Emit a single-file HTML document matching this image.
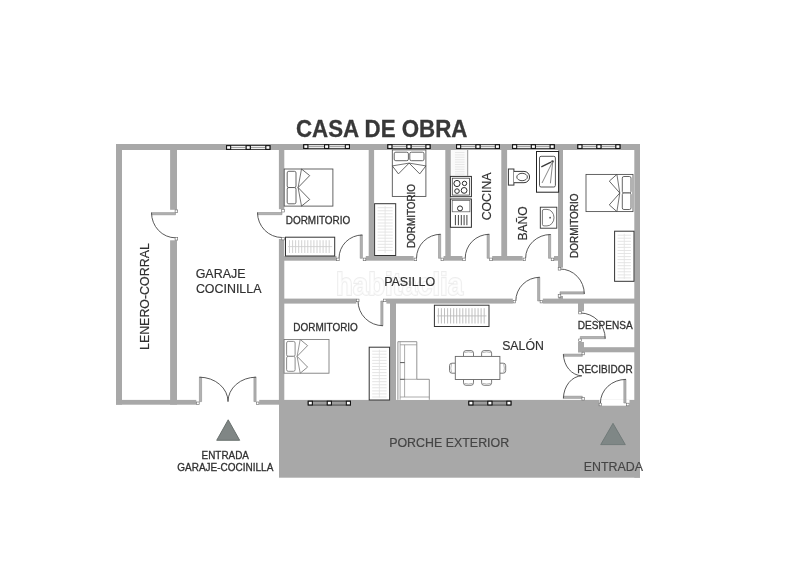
<!DOCTYPE html>
<html lang="es"><head><meta charset="utf-8"><title>CASA DE OBRA</title>
<style>
html,body{margin:0;padding:0;background:#fff;}
body{width:800px;height:573px;overflow:hidden;}
svg{display:block;font-family:"Liberation Sans",sans-serif;will-change:transform;}
</style></head><body>
<svg width="800" height="573" viewBox="0 0 800 573">
<rect width="800" height="573" fill="#fff"/>
<rect x="279" y="399.9" width="361" height="77.8" fill="#a8a8a8" />
<rect x="116" y="144" width="524" height="6" fill="#a8a8a8" />
<rect x="116" y="144" width="6" height="260.7" fill="#a8a8a8" />
<rect x="634.3" y="144" width="5.7" height="333.7" fill="#a8a8a8" />
<rect x="116" y="399.9" width="80.3" height="4.8" fill="#a8a8a8" />
<rect x="259.2" y="399.9" width="24.8" height="4.8" fill="#a8a8a8" />
<rect x="170.1" y="144" width="6.9" height="65.8" fill="#a8a8a8" />
<rect x="170.1" y="240.3" width="6.9" height="164.4" fill="#a8a8a8" />
<rect x="278.9" y="144" width="5.4" height="65.2" fill="#a8a8a8" />
<rect x="278.9" y="239" width="5.4" height="165.7" fill="#a8a8a8" />
<rect x="284" y="256" width="52.5" height="4.7" fill="#a8a8a8" />
<rect x="365.8" y="256" width="47.8" height="4.7" fill="#a8a8a8" />
<rect x="443.6" y="256" width="18.8" height="4.7" fill="#a8a8a8" />
<rect x="492.2" y="256" width="30.4" height="4.7" fill="#a8a8a8" />
<rect x="554" y="256" width="9" height="4.7" fill="#a8a8a8" />
<rect x="368.7" y="150" width="5.4" height="110" fill="#a8a8a8" />
<rect x="445.3" y="150" width="5.5" height="110" fill="#a8a8a8" />
<rect x="501.3" y="150" width="5.8" height="110" fill="#a8a8a8" />
<rect x="558" y="150" width="5" height="117.6" fill="#a8a8a8" />
<rect x="558.4" y="296" width="4.6" height="3" fill="#a8a8a8" />
<rect x="284" y="298.6" width="72.3" height="5" fill="#a8a8a8" />
<rect x="386.4" y="298.6" width="126.4" height="5" fill="#a8a8a8" />
<rect x="542.8" y="298.6" width="92.2" height="5" fill="#a8a8a8" />
<rect x="390" y="300" width="6" height="104" fill="#a8a8a8" />
<rect x="578" y="303" width="6" height="8.2" fill="#a8a8a8" />
<rect x="578" y="342" width="6" height="10.3" fill="#a8a8a8" />
<rect x="578" y="347.2" width="57" height="5.1" fill="#a8a8a8" />
<rect x="599.5" y="400" width="30" height="5.7" fill="#fff" />
<rect x="226" y="145.1" width="44.5" height="4.8" fill="#3a3a3a" />
<rect x="231" y="146" width="14.65" height="3" fill="#f0f0f0" />
<rect x="231" y="147.05" width="14.65" height="0.9" fill="#9a9a9a" />
<rect x="250.85" y="146" width="14.65" height="3" fill="#f0f0f0" />
<rect x="250.85" y="147.05" width="14.65" height="0.9" fill="#9a9a9a" />
<rect x="226" y="145.1" width="5.2" height="4.8" fill="#151515" />
<rect x="227.1" y="146.2" width="3" height="2.6" fill="#fff" />
<rect x="245.65" y="145.1" width="5.2" height="4.8" fill="#151515" />
<rect x="246.75" y="146.2" width="3" height="2.6" fill="#fff" />
<rect x="265.3" y="145.1" width="5.2" height="4.8" fill="#151515" />
<rect x="266.4" y="146.2" width="3" height="2.6" fill="#fff" />
<rect x="303.2" y="144.2" width="46.8" height="4.8" fill="#3a3a3a" />
<rect x="308.2" y="145.1" width="15.8" height="3" fill="#f0f0f0" />
<rect x="308.2" y="146.15" width="15.8" height="0.9" fill="#9a9a9a" />
<rect x="329.2" y="145.1" width="15.8" height="3" fill="#f0f0f0" />
<rect x="329.2" y="146.15" width="15.8" height="0.9" fill="#9a9a9a" />
<rect x="303.2" y="144.2" width="5.2" height="4.8" fill="#151515" />
<rect x="304.3" y="145.3" width="3" height="2.6" fill="#fff" />
<rect x="324" y="144.2" width="5.2" height="4.8" fill="#151515" />
<rect x="325.1" y="145.3" width="3" height="2.6" fill="#fff" />
<rect x="344.8" y="144.2" width="5.2" height="4.8" fill="#151515" />
<rect x="345.9" y="145.3" width="3" height="2.6" fill="#fff" />
<rect x="387.3" y="144.2" width="43.3" height="4.8" fill="#3a3a3a" />
<rect x="392.3" y="145.1" width="14.05" height="3" fill="#f0f0f0" />
<rect x="392.3" y="146.15" width="14.05" height="0.9" fill="#9a9a9a" />
<rect x="411.55" y="145.1" width="14.05" height="3" fill="#f0f0f0" />
<rect x="411.55" y="146.15" width="14.05" height="0.9" fill="#9a9a9a" />
<rect x="387.3" y="144.2" width="5.2" height="4.8" fill="#151515" />
<rect x="388.4" y="145.3" width="3" height="2.6" fill="#fff" />
<rect x="406.35" y="144.2" width="5.2" height="4.8" fill="#151515" />
<rect x="407.45" y="145.3" width="3" height="2.6" fill="#fff" />
<rect x="425.4" y="144.2" width="5.2" height="4.8" fill="#151515" />
<rect x="426.5" y="145.3" width="3" height="2.6" fill="#fff" />
<rect x="456" y="144.2" width="44" height="4.8" fill="#3a3a3a" />
<rect x="461" y="145.1" width="14.4" height="3" fill="#f0f0f0" />
<rect x="461" y="146.15" width="14.4" height="0.9" fill="#9a9a9a" />
<rect x="480.6" y="145.1" width="14.4" height="3" fill="#f0f0f0" />
<rect x="480.6" y="146.15" width="14.4" height="0.9" fill="#9a9a9a" />
<rect x="456" y="144.2" width="5.2" height="4.8" fill="#151515" />
<rect x="457.1" y="145.3" width="3" height="2.6" fill="#fff" />
<rect x="475.4" y="144.2" width="5.2" height="4.8" fill="#151515" />
<rect x="476.5" y="145.3" width="3" height="2.6" fill="#fff" />
<rect x="494.8" y="144.2" width="5.2" height="4.8" fill="#151515" />
<rect x="495.9" y="145.3" width="3" height="2.6" fill="#fff" />
<rect x="512" y="144.2" width="42.8" height="4.8" fill="#3a3a3a" />
<rect x="517" y="145.1" width="13.8" height="3" fill="#f0f0f0" />
<rect x="517" y="146.15" width="13.8" height="0.9" fill="#9a9a9a" />
<rect x="536" y="145.1" width="13.8" height="3" fill="#f0f0f0" />
<rect x="536" y="146.15" width="13.8" height="0.9" fill="#9a9a9a" />
<rect x="512" y="144.2" width="5.2" height="4.8" fill="#151515" />
<rect x="513.1" y="145.3" width="3" height="2.6" fill="#fff" />
<rect x="530.8" y="144.2" width="5.2" height="4.8" fill="#151515" />
<rect x="531.9" y="145.3" width="3" height="2.6" fill="#fff" />
<rect x="549.6" y="144.2" width="5.2" height="4.8" fill="#151515" />
<rect x="550.7" y="145.3" width="3" height="2.6" fill="#fff" />
<rect x="577.3" y="144.2" width="43.2" height="4.8" fill="#3a3a3a" />
<rect x="582.3" y="145.1" width="14" height="3" fill="#f0f0f0" />
<rect x="582.3" y="146.15" width="14" height="0.9" fill="#9a9a9a" />
<rect x="601.5" y="145.1" width="14" height="3" fill="#f0f0f0" />
<rect x="601.5" y="146.15" width="14" height="0.9" fill="#9a9a9a" />
<rect x="577.3" y="144.2" width="5.2" height="4.8" fill="#151515" />
<rect x="578.4" y="145.3" width="3" height="2.6" fill="#fff" />
<rect x="596.3" y="144.2" width="5.2" height="4.8" fill="#151515" />
<rect x="597.4" y="145.3" width="3" height="2.6" fill="#fff" />
<rect x="615.3" y="144.2" width="5.2" height="4.8" fill="#151515" />
<rect x="616.4" y="145.3" width="3" height="2.6" fill="#fff" />
<rect x="307.7" y="400.7" width="43.3" height="4.8" fill="#3a3a3a" />
<rect x="312.7" y="401.6" width="14.05" height="3" fill="#a4a4a4" />
<rect x="312.7" y="402.65" width="14.05" height="0.9" fill="#949494" />
<rect x="331.95" y="401.6" width="14.05" height="3" fill="#a4a4a4" />
<rect x="331.95" y="402.65" width="14.05" height="0.9" fill="#949494" />
<rect x="307.7" y="400.7" width="5.2" height="4.8" fill="#151515" />
<rect x="308.8" y="401.8" width="3" height="2.6" fill="#fff" />
<rect x="326.75" y="400.7" width="5.2" height="4.8" fill="#151515" />
<rect x="327.85" y="401.8" width="3" height="2.6" fill="#fff" />
<rect x="345.8" y="400.7" width="5.2" height="4.8" fill="#151515" />
<rect x="346.9" y="401.8" width="3" height="2.6" fill="#fff" />
<rect x="468.3" y="400.7" width="43.2" height="4.8" fill="#3a3a3a" />
<rect x="473.3" y="401.6" width="14" height="3" fill="#a4a4a4" />
<rect x="473.3" y="402.65" width="14" height="0.9" fill="#949494" />
<rect x="492.5" y="401.6" width="14" height="3" fill="#a4a4a4" />
<rect x="492.5" y="402.65" width="14" height="0.9" fill="#949494" />
<rect x="468.3" y="400.7" width="5.2" height="4.8" fill="#151515" />
<rect x="469.4" y="401.8" width="3" height="2.6" fill="#fff" />
<rect x="487.3" y="400.7" width="5.2" height="4.8" fill="#151515" />
<rect x="488.4" y="401.8" width="3" height="2.6" fill="#fff" />
<rect x="506.3" y="400.7" width="5.2" height="4.8" fill="#151515" />
<rect x="507.4" y="401.8" width="3" height="2.6" fill="#fff" />
<polygon points="175.50,212.60 151.50,212.60 151.50,214.80 175.50,214.80" fill="#b2b2b2" stroke="#8a8a8a" stroke-width="0.55"/>
<path d="M151.50,212.60 A24.00,25.20 0 0 0 175.50,237.80" fill="none" stroke="#505050" stroke-width="0.95" />
<rect x="175.1" y="209.9" width="2.6" height="2.6" fill="#fff" stroke="#666" stroke-width="0.6" />
<rect x="175.1" y="237.5" width="2.6" height="2.6" fill="#fff" stroke="#666" stroke-width="0.6" />
<polygon points="282.00,212.50 257.50,212.50 257.50,214.70 282.00,214.70" fill="#b2b2b2" stroke="#8a8a8a" stroke-width="0.55"/>
<path d="M257.50,212.50 A24.50,25.00 0 0 0 282.00,237.50" fill="none" stroke="#505050" stroke-width="0.95" />
<rect x="281.7" y="209.4" width="2.6" height="2.6" fill="#fff" stroke="#666" stroke-width="0.6" />
<rect x="281.7" y="237.3" width="2.6" height="2.6" fill="#fff" stroke="#666" stroke-width="0.6" />
<polygon points="199.40,401.60 199.40,377.20 201.60,377.20 201.60,401.60" fill="#b2b2b2" stroke="#8a8a8a" stroke-width="0.55"/>
<path d="M199.40,377.20 A28.60,24.40 0 0 1 228.00,401.60" fill="none" stroke="#505050" stroke-width="0.95" />
<rect x="196.6" y="402" width="2.6" height="2.6" fill="#fff" stroke="#666" stroke-width="0.6" />
<polygon points="256.10,401.60 256.10,377.20 253.90,377.20 253.90,401.60" fill="#b2b2b2" stroke="#8a8a8a" stroke-width="0.55"/>
<path d="M256.10,377.20 A28.10,24.40 0 0 0 228.00,401.60" fill="none" stroke="#505050" stroke-width="0.95" />
<rect x="256.3" y="402" width="2.6" height="2.6" fill="#fff" stroke="#666" stroke-width="0.6" />
<polygon points="362.40,258.30 362.40,235.00 360.20,235.00 360.20,258.30" fill="#b2b2b2" stroke="#8a8a8a" stroke-width="0.55"/>
<path d="M362.40,235.00 A23.40,23.30 0 0 0 339.00,258.30" fill="none" stroke="#505050" stroke-width="0.95" />
<rect x="363.2" y="258.1" width="2.6" height="2.6" fill="#fff" stroke="#666" stroke-width="0.6" />
<rect x="336.6" y="258.1" width="2.6" height="2.6" fill="#fff" stroke="#666" stroke-width="0.6" />
<polygon points="440.70,258.30 440.70,234.30 438.50,234.30 438.50,258.30" fill="#b2b2b2" stroke="#8a8a8a" stroke-width="0.55"/>
<path d="M440.70,234.30 A24.20,24.00 0 0 0 416.50,258.30" fill="none" stroke="#505050" stroke-width="0.95" />
<rect x="441" y="258.1" width="2.6" height="2.6" fill="#fff" stroke="#666" stroke-width="0.6" />
<rect x="414.1" y="258.1" width="2.6" height="2.6" fill="#fff" stroke="#666" stroke-width="0.6" />
<polygon points="489.30,258.30 489.30,234.30 487.10,234.30 487.10,258.30" fill="#b2b2b2" stroke="#8a8a8a" stroke-width="0.55"/>
<path d="M489.30,234.30 A24.10,24.00 0 0 0 465.20,258.30" fill="none" stroke="#505050" stroke-width="0.95" />
<rect x="489.7" y="258.1" width="2.6" height="2.6" fill="#fff" stroke="#666" stroke-width="0.6" />
<rect x="462.7" y="258.1" width="2.6" height="2.6" fill="#fff" stroke="#666" stroke-width="0.6" />
<polygon points="550.70,258.30 550.70,234.50 548.50,234.50 548.50,258.30" fill="#b2b2b2" stroke="#8a8a8a" stroke-width="0.55"/>
<path d="M550.70,234.50 A25.10,23.80 0 0 0 525.60,258.30" fill="none" stroke="#505050" stroke-width="0.95" />
<rect x="551.2" y="258.1" width="2.6" height="2.6" fill="#fff" stroke="#666" stroke-width="0.6" />
<rect x="523.1" y="258.1" width="2.6" height="2.6" fill="#fff" stroke="#666" stroke-width="0.6" />
<polygon points="560.00,294.00 584.30,294.00 584.30,291.80 560.00,291.80" fill="#b2b2b2" stroke="#8a8a8a" stroke-width="0.55"/>
<path d="M584.30,294.00 A24.30,25.00 0 0 0 560.00,269.00" fill="none" stroke="#505050" stroke-width="0.95" />
<rect x="558.2" y="294.6" width="2.6" height="2.6" fill="#fff" stroke="#666" stroke-width="0.6" />
<rect x="558.2" y="267.5" width="2.6" height="2.6" fill="#fff" stroke="#666" stroke-width="0.6" />
<polygon points="539.80,301.00 539.80,277.30 537.60,277.30 537.60,301.00" fill="#b2b2b2" stroke="#8a8a8a" stroke-width="0.55"/>
<path d="M539.80,277.30 A24.00,23.70 0 0 0 515.80,301.00" fill="none" stroke="#505050" stroke-width="0.95" />
<rect x="540.1" y="300.3" width="2.6" height="2.6" fill="#fff" stroke="#666" stroke-width="0.6" />
<rect x="513.1" y="300.3" width="2.6" height="2.6" fill="#fff" stroke="#666" stroke-width="0.6" />
<polygon points="383.00,301.00 383.00,325.70 380.80,325.70 380.80,301.00" fill="#b2b2b2" stroke="#8a8a8a" stroke-width="0.55"/>
<path d="M383.00,325.70 A25.00,24.70 0 0 1 358.00,301.00" fill="none" stroke="#505050" stroke-width="0.95" />
<rect x="383.5" y="299.1" width="2.6" height="2.6" fill="#fff" stroke="#666" stroke-width="0.6" />
<rect x="356.4" y="299.1" width="2.6" height="2.6" fill="#fff" stroke="#666" stroke-width="0.6" />
<polygon points="580.30,338.70 605.20,338.70 605.20,336.50 580.30,336.50" fill="#b2b2b2" stroke="#8a8a8a" stroke-width="0.55"/>
<path d="M605.20,338.70 A24.90,25.70 0 0 0 580.30,313.00" fill="none" stroke="#505050" stroke-width="0.95" />
<rect x="578.7" y="339" width="2.6" height="2.6" fill="#fff" stroke="#666" stroke-width="0.6" />
<rect x="578.7" y="311.3" width="2.6" height="2.6" fill="#fff" stroke="#666" stroke-width="0.6" />
<polygon points="582.30,354.10 563.40,354.10 563.40,356.30 582.30,356.30" fill="#b2b2b2" stroke="#8a8a8a" stroke-width="0.55"/>
<path d="M563.40,354.10 A18.90,22.20 0 0 0 581.80,375.80" fill="none" stroke="#505050" stroke-width="0.95" />
<rect x="582" y="352.2" width="2.6" height="2.6" fill="#fff" stroke="#666" stroke-width="0.6" />
<polygon points="582.30,398.40 563.40,398.40 563.40,396.20 582.30,396.20" fill="#b2b2b2" stroke="#8a8a8a" stroke-width="0.55"/>
<path d="M563.40,398.40 A18.90,23.10 0 0 1 581.80,375.80" fill="none" stroke="#505050" stroke-width="0.95" />
<rect x="581.9" y="397.5" width="2.6" height="2.6" fill="#fff" stroke="#666" stroke-width="0.6" />
<polygon points="626.00,403.00 626.00,379.40 623.80,379.40 623.80,403.00" fill="#b2b2b2" stroke="#8a8a8a" stroke-width="0.55"/>
<path d="M626.00,379.40 A25.60,23.60 0 0 0 600.40,403.00" fill="none" stroke="#505050" stroke-width="0.95" />
<rect x="626.5" y="403.2" width="2.6" height="2.6" fill="#fff" stroke="#666" stroke-width="0.6" />
<rect x="599.1" y="403.2" width="2.6" height="2.6" fill="#fff" stroke="#666" stroke-width="0.6" />
<rect x="284.2" y="169" width="48.7" height="37.1" fill="#fff" stroke="#4a4a4a" stroke-width="0.85" />
<rect x="287.2" y="171.3" width="8.8" height="16.25" fill="#fff" stroke="#4a4a4a" stroke-width="0.85" rx="1.6"/>
<rect x="287.2" y="187.55" width="8.8" height="16.25" fill="#fff" stroke="#4a4a4a" stroke-width="0.85" rx="1.6"/>
<path d="M301.50,169.00 L309.70,175.60 L298.10,187.55 L309.70,199.50 L301.50,206.10" fill="none" stroke="#4a4a4a" stroke-width="0.85" stroke-linejoin="miter"/>
<path d="M301.50,169.00 L298.10,187.55 L301.50,206.10" fill="none" stroke="#4a4a4a" stroke-width="0.765" />
<rect x="392.3" y="149.9" width="33.6" height="46.5" fill="#fff" stroke="#4a4a4a" stroke-width="0.85" />
<rect x="394.2" y="152.2" width="14.2" height="8.5" fill="#fff" stroke="#4a4a4a" stroke-width="0.85" rx="1.6"/>
<rect x="409.8" y="152.2" width="14.2" height="8.5" fill="#fff" stroke="#4a4a4a" stroke-width="0.85" rx="1.6"/>
<path d="M392.30,165.90 L398.45,173.90 L409.10,163.10 L419.75,173.90 L425.90,165.90" fill="none" stroke="#4a4a4a" stroke-width="0.85" stroke-linejoin="miter"/>
<path d="M392.30,165.90 L409.10,163.10 L425.90,165.90" fill="none" stroke="#4a4a4a" stroke-width="0.765" />
<rect x="586" y="174.4" width="47" height="37.2" fill="#fff" stroke="#4a4a4a" stroke-width="0.85" />
<rect x="622.3" y="176.5" width="8.7" height="16.5" fill="#fff" stroke="#4a4a4a" stroke-width="0.85" rx="1.6"/>
<rect x="622.3" y="193" width="8.7" height="16.5" fill="#fff" stroke="#4a4a4a" stroke-width="0.85" rx="1.6"/>
<path d="M616.90,174.40 L609.30,181.10 L619.80,193.00 L609.30,204.90 L616.90,211.60" fill="none" stroke="#4a4a4a" stroke-width="0.85" stroke-linejoin="miter"/>
<path d="M616.90,174.40 L619.80,193.00 L616.90,211.60" fill="none" stroke="#4a4a4a" stroke-width="0.765" />
<rect x="284.1" y="339.5" width="44.9" height="33.7" fill="#fff" stroke="#777" stroke-width="0.85" />
<rect x="286.6" y="341.4" width="8.5" height="14.95" fill="#fff" stroke="#777" stroke-width="0.85" rx="1.6"/>
<rect x="286.6" y="356.35" width="8.5" height="14.95" fill="#fff" stroke="#777" stroke-width="0.85" rx="1.6"/>
<path d="M300.20,339.50 L307.60,345.60 L297.10,356.35 L307.60,367.10 L300.20,373.20" fill="none" stroke="#777" stroke-width="0.85" stroke-linejoin="miter"/>
<path d="M300.20,339.50 L297.10,356.35 L300.20,373.20" fill="none" stroke="#777" stroke-width="0.765" />
<rect x="285.5" y="237.2" width="49.2" height="18.8" fill="#fff" stroke="#333" stroke-width="1.0" />
<path d="M288.0,246.6 H332.2" fill="none" stroke="#cdcdcd" stroke-width="0.8" />
<path d="M289.5,240.2 V253.0 M292.6,240.2 V253.0 M295.6,240.2 V253.0 M298.7,240.2 V253.0 M301.7,240.2 V253.0 M304.8,240.2 V253.0 M307.8,240.2 V253.0 M310.9,240.2 V253.0 M313.9,240.2 V253.0 M317.0,240.2 V253.0 M320.0,240.2 V253.0 M323.1,240.2 V253.0 M326.1,240.2 V253.0 M329.2,240.2 V253.0 " fill="none" stroke="#cdcdcd" stroke-width="0.9" />
<rect x="374.6" y="203.7" width="21.1" height="51.8" fill="#fff" stroke="#333" stroke-width="1.0" />
<path d="M385.1,206.2 V253.0" fill="none" stroke="#e2e2e2" stroke-width="0.8" />
<path d="M377.6,207.7 H392.7 M377.6,210.8 H392.7 M377.6,213.8 H392.7 M377.6,216.9 H392.7 M377.6,219.9 H392.7 M377.6,223.0 H392.7 M377.6,226.0 H392.7 M377.6,229.1 H392.7 M377.6,232.1 H392.7 M377.6,235.2 H392.7 M377.6,238.2 H392.7 M377.6,241.3 H392.7 M377.6,244.3 H392.7 M377.6,247.4 H392.7 M377.6,250.4 H392.7 " fill="none" stroke="#e2e2e2" stroke-width="0.9" />
<rect x="614.6" y="231.2" width="19.4" height="50.1" fill="#fff" stroke="#333" stroke-width="1.0" />
<path d="M624.3,233.7 V278.8" fill="none" stroke="#e2e2e2" stroke-width="0.8" />
<path d="M617.6,235.2 H631.0 M617.6,238.2 H631.0 M617.6,241.3 H631.0 M617.6,244.4 H631.0 M617.6,247.4 H631.0 M617.6,250.5 H631.0 M617.6,253.5 H631.0 M617.6,256.6 H631.0 M617.6,259.6 H631.0 M617.6,262.7 H631.0 M617.6,265.7 H631.0 M617.6,268.8 H631.0 M617.6,271.8 H631.0 M617.6,274.9 H631.0 M617.6,277.9 H631.0 " fill="none" stroke="#e2e2e2" stroke-width="0.9" />
<rect x="369.2" y="347.2" width="20.4" height="52.8" fill="#fff" stroke="#333" stroke-width="1.0" />
<path d="M379.4,349.7 V397.5" fill="none" stroke="#e2e2e2" stroke-width="0.8" />
<path d="M372.2,351.2 H386.6 M372.2,354.2 H386.6 M372.2,357.3 H386.6 M372.2,360.4 H386.6 M372.2,363.4 H386.6 M372.2,366.5 H386.6 M372.2,369.5 H386.6 M372.2,372.6 H386.6 M372.2,375.6 H386.6 M372.2,378.7 H386.6 M372.2,381.7 H386.6 M372.2,384.8 H386.6 M372.2,387.8 H386.6 M372.2,390.9 H386.6 M372.2,393.9 H386.6 M372.2,397.0 H386.6 " fill="none" stroke="#e2e2e2" stroke-width="0.9" />
<rect x="434.4" y="305.2" width="54.6" height="21.3" fill="#fff" stroke="#333" stroke-width="1.0" />
<path d="M436.9,315.9 H486.5" fill="none" stroke="#b8b8b8" stroke-width="0.8" />
<path d="M438.4,308.2 V323.5 M441.4,308.2 V323.5 M444.5,308.2 V323.5 M447.6,308.2 V323.5 M450.6,308.2 V323.5 M453.7,308.2 V323.5 M456.7,308.2 V323.5 M459.8,308.2 V323.5 M462.8,308.2 V323.5 M465.9,308.2 V323.5 M468.9,308.2 V323.5 M472.0,308.2 V323.5 M475.0,308.2 V323.5 M478.1,308.2 V323.5 M481.1,308.2 V323.5 M484.2,308.2 V323.5 " fill="none" stroke="#b8b8b8" stroke-width="0.9" />
<rect x="451.3" y="150" width="16.1" height="25.6" fill="#fafafa" />
<path d="M455,152.5 H464.5 M455,154.9 H464.5 M455,157.3 H464.5 M455,159.7 H464.5 M455,162.1 H464.5 M455,164.5 H464.5 M455,166.9 H464.5 M455,169.3 H464.5 M455,171.7 H464.5 M455,174.1 H464.5 " fill="none" stroke="#e2e2e2" stroke-width="0.8" />
<path d="M467.7,150 V175.8" fill="none" stroke="#777" stroke-width="0.8" />
<rect x="450.4" y="176.4" width="21" height="20.3" fill="#fff" stroke="#2e2e2e" stroke-width="1.0" />
<rect x="452.3" y="178.2" width="17.2" height="16.9" fill="#fff" stroke="#444" stroke-width="0.8" />
<circle cx="457" cy="183.5" r="3.1" fill="#fff" stroke="#2a2a2a" stroke-width="1.0"/>
<circle cx="464.5" cy="183.4" r="2.2" fill="#fff" stroke="#2a2a2a" stroke-width="1.0"/>
<circle cx="457" cy="191.1" r="2.3" fill="#fff" stroke="#2a2a2a" stroke-width="1.0"/>
<circle cx="464.1" cy="190.4" r="2.9" fill="#fff" stroke="#2a2a2a" stroke-width="1.0"/>
<rect x="450.4" y="199" width="21" height="28.3" fill="#fff" stroke="#2e2e2e" stroke-width="1.0" />
<rect x="452.2" y="200.6" width="17.7" height="11.2" fill="#fff" stroke="#555" stroke-width="0.7" />
<circle cx="460" cy="208.4" r="2.5" fill="#fff" stroke="#2a2a2a" stroke-width="1.0"/>
<path d="M455.4,215 V225.2 M458.4,215 V225.2 M461.3,215 V225.2 M464.1,215 V225.2 M466.9,215 V225.2" fill="none" stroke="#444" stroke-width="1" />
<rect x="508.4" y="169" width="5.5" height="16.1" fill="#fff" stroke="#383838" stroke-width="1.0" />
<path d="M513.9,171.4 H524 A5.6,5.65 0 0 1 524,182.7 H513.9" fill="#fff" stroke="#383838" stroke-width="1.0" />
<ellipse cx="522.1" cy="177" rx="5.3" ry="3.7" fill="#fff" stroke="#383838" stroke-width="0.9"/>
<rect x="536.5" y="151.5" width="22.1" height="40.7" fill="#fff" stroke="#222" stroke-width="1" />
<rect x="539.5" y="156.3" width="15.9" height="30.7" fill="#fff" stroke="#444" stroke-width="0.9" rx="1.6"/>
<path d="M541.3,166.8 L551,162.2" fill="none" stroke="#3a3a3a" stroke-width="1.4" />
<circle cx="552.5" cy="161.5" r="1.3" fill="#444"/>
<path d="M552,163 L542,183 M552.6,163 L550.4,183.3" fill="none" stroke="#555" stroke-width="0.7" />
<rect x="540.3" y="207.2" width="16.5" height="21" fill="#fff" stroke="#333" stroke-width="0.9" />
<path d="M544,209.4 H547 A7,8.25 0 0 1 547,225.9 H544 A1.6,1.6 0 0 1 542.4,224.3 V211 A1.6,1.6 0 0 1 544,209.4 Z" fill="#fff" stroke="#555" stroke-width="0.8" />
<circle cx="550.1" cy="217.7" r="0.9" fill="#555"/>
<path d="M463.5,356.4 V353.1 Q463.5,350.6 466.0,350.6 H471.0 Q473.5,350.6 473.5,353.1 V356.4" fill="#fff" stroke="#585858" stroke-width="0.8" />
<path d="M464.3,352.6 Q468.5,351.2 472.7,352.6" fill="none" stroke="#999" stroke-width="0.7" />
<path d="M481.6,356.4 V353.1 Q481.6,350.6 484.1,350.6 H489.1 Q491.6,350.6 491.6,353.1 V356.4" fill="#fff" stroke="#585858" stroke-width="0.8" />
<path d="M482.4,352.6 Q486.6,351.2 490.8,352.6" fill="none" stroke="#999" stroke-width="0.7" />
<path d="M463.5,379.5 V382.8 Q463.5,385.3 466.0,385.3 H471.0 Q473.5,385.3 473.5,382.8 V379.5" fill="#fff" stroke="#585858" stroke-width="0.8" />
<path d="M464.3,383.3 Q468.5,384.7 472.7,383.3" fill="none" stroke="#999" stroke-width="0.7" />
<path d="M481.6,379.5 V382.8 Q481.6,385.3 484.1,385.3 H489.1 Q491.6,385.3 491.6,382.8 V379.5" fill="#fff" stroke="#585858" stroke-width="0.8" />
<path d="M482.4,383.3 Q486.6,384.7 490.8,383.3" fill="none" stroke="#999" stroke-width="0.7" />
<path d="M455.3,363.2 H452.0 Q449.5,363.2 449.5,365.7 V370.7 Q449.5,373.2 452.0,373.2 H455.3" fill="#fff" stroke="#585858" stroke-width="0.8" />
<path d="M451.5,364.0 Q450.1,368.2 451.5,372.4" fill="none" stroke="#999" stroke-width="0.7" />
<path d="M499.9,363.2 H503.2 Q505.7,363.2 505.7,365.7 V370.7 Q505.7,373.2 503.2,373.2 H499.9" fill="#fff" stroke="#585858" stroke-width="0.8" />
<path d="M503.7,364.0 Q505.1,368.2 503.7,372.4" fill="none" stroke="#999" stroke-width="0.7" />
<rect x="455.3" y="356.4" width="44.6" height="23.1" fill="#fff" stroke="#666" stroke-width="0.9" />
<path d="M397.9,399.8 V341.7 H416.8 V379.3 H429.3 V399.8" fill="#fff" stroke="#787878" stroke-width="0.8" />
<path d="M400.1,341.7 V399.8 M404.6,344.8 V397 M400.1,344.8 H416.8 M404.6,379.3 H416.8 M400.1,397 H429.3" fill="none" stroke="#909090" stroke-width="0.75" />
<path d="M400.1,362.6 H404.6 M400.1,379.3 H404.6" fill="none" stroke="#444" stroke-width="0.9" />
<text x="399.5" y="295.3" font-size="32" font-weight="bold" text-anchor="middle" textLength="127" lengthAdjust="spacingAndGlyphs" fill="#fff" fill-opacity="0.7" stroke="#000" stroke-opacity="0.07" stroke-width="2" paint-order="stroke">habitaclia</text>
<text x="381.7" y="137.2" font-size="23.2" text-anchor="middle" font-weight="bold" fill="#383838" stroke="#383838" stroke-width="0.3" textLength="171.5" lengthAdjust="spacingAndGlyphs">CASA DE OBRA</text>
<text x="149.2" y="296.6" font-size="12.6" text-anchor="middle" fill="#303030" stroke="#303030" stroke-width="0.18" transform="rotate(-90 149.2 296.6)" textLength="106.8" lengthAdjust="spacingAndGlyphs">LENERO-CORRAL</text>
<text x="220.6" y="278.1" font-size="12.6" text-anchor="middle" font-weight="normal" fill="#303030" stroke="#303030" stroke-width="0.18" textLength="49.8" lengthAdjust="spacingAndGlyphs">GARAJE</text>
<text x="228.7" y="292.7" font-size="12.6" text-anchor="middle" font-weight="normal" fill="#303030" stroke="#303030" stroke-width="0.18" textLength="65.6" lengthAdjust="spacingAndGlyphs">COCINILLA</text>
<text x="318" y="224" font-size="11" text-anchor="middle" font-weight="normal" fill="#303030" stroke="#303030" stroke-width="0.3" textLength="64.5" lengthAdjust="spacingAndGlyphs">DORMITORIO</text>
<text x="414.7" y="216" font-size="11" text-anchor="middle" fill="#303030" stroke="#303030" stroke-width="0.3" transform="rotate(-90 414.7 216)" textLength="64" lengthAdjust="spacingAndGlyphs">DORMITORIO</text>
<text x="490.8" y="196.4" font-size="12.6" text-anchor="middle" fill="#303030" stroke="#303030" stroke-width="0.18" transform="rotate(-90 490.8 196.4)" textLength="47.8" lengthAdjust="spacingAndGlyphs">COCINA</text>
<text x="526.9" y="223.4" font-size="12.6" text-anchor="middle" fill="#303030" stroke="#303030" stroke-width="0.18" transform="rotate(-90 526.9 223.4)" textLength="34.2" lengthAdjust="spacingAndGlyphs">BAÑO</text>
<text x="578.1" y="225.7" font-size="11" text-anchor="middle" fill="#303030" stroke="#303030" stroke-width="0.3" transform="rotate(-90 578.1 225.7)" textLength="64.4" lengthAdjust="spacingAndGlyphs">DORMITORIO</text>
<text x="409.7" y="286" font-size="12.6" text-anchor="middle" font-weight="normal" fill="#303030" stroke="#303030" stroke-width="0.18" textLength="51" lengthAdjust="spacingAndGlyphs">PASILLO</text>
<text x="325.6" y="331.4" font-size="11" text-anchor="middle" font-weight="normal" fill="#303030" stroke="#303030" stroke-width="0.3" textLength="64.5" lengthAdjust="spacingAndGlyphs">DORMITORIO</text>
<text x="523" y="349.6" font-size="12.6" text-anchor="middle" font-weight="normal" fill="#303030" stroke="#303030" stroke-width="0.18" textLength="41.6" lengthAdjust="spacingAndGlyphs">SALÓN</text>
<text x="605.2" y="329.4" font-size="11" text-anchor="middle" font-weight="normal" fill="#303030" stroke="#303030" stroke-width="0.3" textLength="54.8" lengthAdjust="spacingAndGlyphs">DESPENSA</text>
<text x="604.9" y="373.3" font-size="11" text-anchor="middle" font-weight="normal" fill="#303030" stroke="#303030" stroke-width="0.3" textLength="55.4" lengthAdjust="spacingAndGlyphs">RECIBIDOR</text>
<text x="449.2" y="446.8" font-size="12.6" text-anchor="middle" font-weight="normal" fill="#454545" stroke="#454545" stroke-width="0.2" textLength="120" lengthAdjust="spacingAndGlyphs">PORCHE EXTERIOR</text>
<text x="613.4" y="470.9" font-size="12.6" text-anchor="middle" font-weight="normal" fill="#454545" stroke="#454545" stroke-width="0.15" textLength="59.3" lengthAdjust="spacingAndGlyphs">ENTRADA</text>
<text x="225.3" y="458.6" font-size="10.4" text-anchor="middle" font-weight="normal" fill="#303030" stroke="#303030" stroke-width="0.3" textLength="47.4" lengthAdjust="spacingAndGlyphs">ENTRADA</text>
<text x="225.3" y="470.6" font-size="10.4" text-anchor="middle" font-weight="normal" fill="#303030" stroke="#303030" stroke-width="0.3" textLength="96" lengthAdjust="spacingAndGlyphs">GARAJE-COCINILLA</text>
<polygon points="228.2,419.8 239.7,440.3 216.7,440.3" fill="#808685" stroke="#626a68" stroke-width="0.9" stroke-linejoin="miter"/>
<polygon points="613,423.3 625.3,444.6 600.7,444.6" fill="#7f8786" stroke="#6a7472" stroke-width="0.8"/>
</svg>
</body></html>
